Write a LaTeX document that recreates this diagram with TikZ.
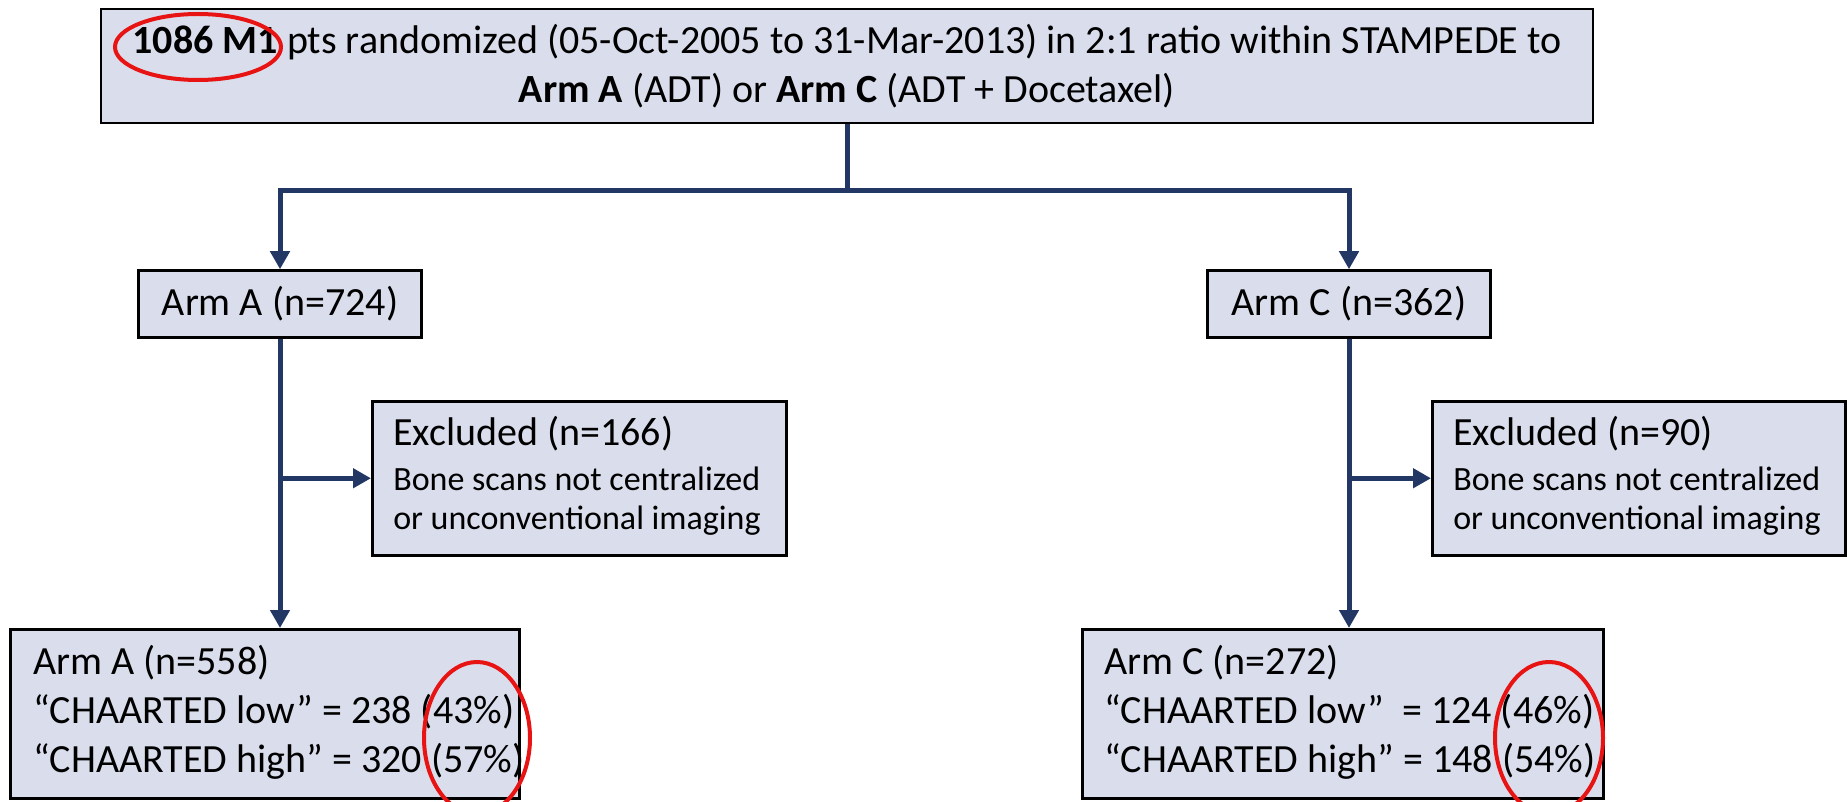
\documentclass[tikz,border=0pt]{standalone}
\usepackage{fontspec}
\setmainfont{Carlito}
\usetikzlibrary{arrows.meta,calc}
\definecolor{boxfill}{RGB}{218,222,236}
\definecolor{navy}{RGB}{35,55,100}
\definecolor{ringred}{RGB}{232,20,20}
\newcommand{\fbig}{\fontsize{40}{49}\selectfont}
\newcommand{\fsmall}{\fontsize{34}{39}\selectfont}
\newcommand{\lefttext}[3]{\makebox[#1][l]{\hspace{#2}\begin{tabular}{@{}l@{}}#3\end{tabular}}}
\begin{document}
\begin{tikzpicture}[x=1pt,y=-1pt,
  box/.style={draw=black, line width=2.5pt, fill=boxfill, inner sep=0pt, text=black},
  conn/.style={draw=navy, line width=5pt},
  tipped/.style={conn, -{Triangle[length=18pt,width=19pt]}},
  ring/.style={draw=ringred, line width=4pt}]
\useasboundingbox (0,0) rectangle (1847,802);

\node[box, minimum width=1492pt, minimum height=114pt, align=center, font=\fbig] (top) at (847,66)
  {\textbf{1086 M1} pts randomized (05-Oct-2005 to 31-Mar-2013) in 2:1 ratio within STAMPEDE to\\
   \textbf{Arm A} (ADT) or \textbf{Arm C} (ADT + Docetaxel)};

\node[box, minimum width=283pt, minimum height=67pt, font=\fbig] (armA) at (280,304) {Arm A (n=724)};
\node[box, minimum width=283pt, minimum height=67pt, font=\fbig] (armC) at (1349,304) {Arm C (n=362)};

\node[box, anchor=north west, minimum height=154pt, font=\fsmall] (exA) at (371,400)
  {\lefttext{414pt}{21pt}{{\fbig Excluded (n=166)}\\[6pt] Bone scans not centralized\\ or unconventional imaging}};
\node[box, anchor=north west, minimum height=154pt, font=\fsmall] (exC) at (1431,400)
  {\lefttext{413pt}{21pt}{{\fbig Excluded (n=90)}\\[6pt] Bone scans not centralized\\ or unconventional imaging}};

\node[box, anchor=north west, minimum height=169pt, font=\fbig] (botA) at (9,628)
  {\lefttext{509pt}{23pt}{Arm A (n=558)\\ “CHAARTED low” = 238 (43\%)\\ “CHAARTED high” = 320 (57\%)}};
\node[box, anchor=north west, minimum height=169pt, font=\fbig] (botC) at (1081,628)
  {\lefttext{521pt}{22pt}{Arm C (n=272)\\ “CHAARTED low”\ \ = 124 (46\%)\\ “CHAARTED high” = 148 (54\%)}};

\draw[conn] (top.south) -- (top.south |- 0,191) coordinate (j);
\draw[tipped] (j) -| (armA.north);
\draw[tipped] (j) -| (armC.north);
\draw[tipped] (armA.south) -- (armA.south |- botA.north);
\draw[tipped] (armC.south) -- (armC.south |- botC.north);
\draw[tipped] (armA.south |- exA.west) -- (exA.west);
\draw[tipped] (armC.south |- exC.west) -- (exC.west);

\draw[ring] (198,47) ellipse [x radius=83pt, y radius=33pt];
\draw[ring] (477,738) ellipse [x radius=53pt, y radius=76pt];
\draw[ring] (1549,738) ellipse [x radius=54pt, y radius=76pt];
\end{tikzpicture}
\end{document}
